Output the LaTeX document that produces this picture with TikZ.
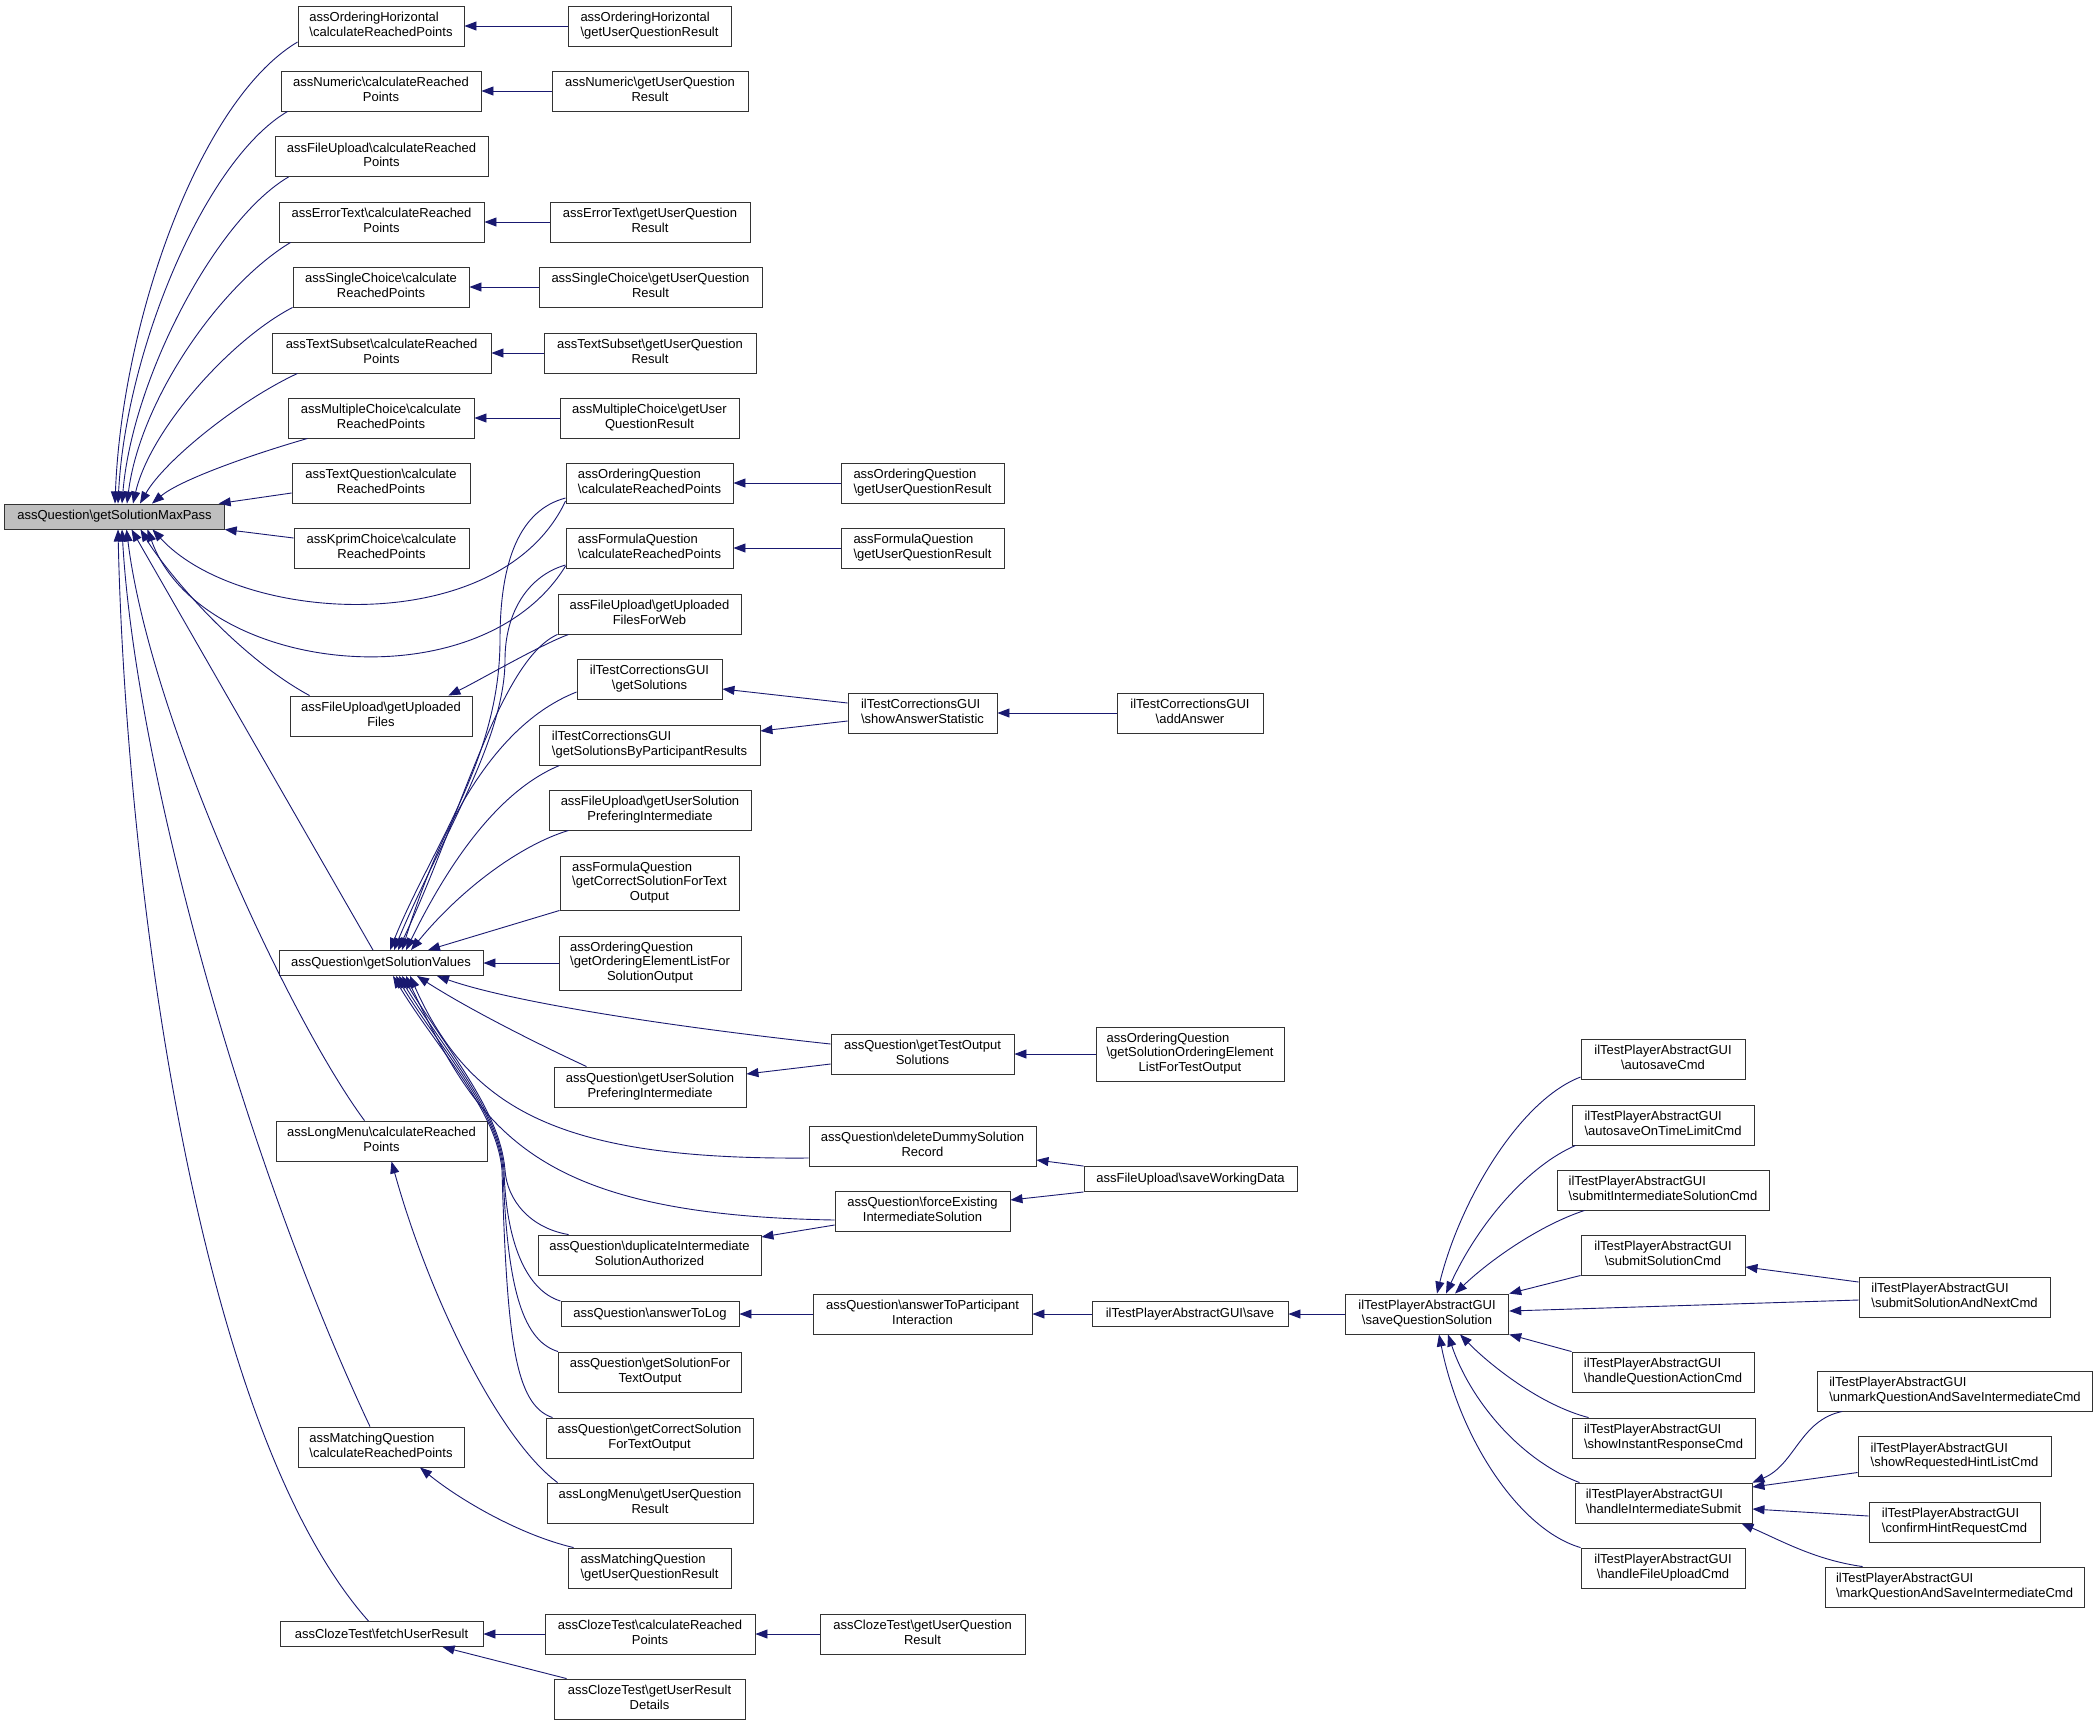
\documentclass[tikz,border=0pt]{standalone}
\usepackage{fontspec}
\setmainfont{Liberation Sans}
\usetikzlibrary{arrows.meta,calc}
\definecolor{edgec}{HTML}{191970}
\definecolor{mainf}{HTML}{BFBFBF}
\newcommand\fs{\fontsize{13}{14.7}\selectfont}
\newcommand\bsx{\textbackslash}
\newcommand\twoline[2]{\begin{tabular}{@{}l@{}}#1\\\multicolumn{1}{@{}c@{}}{#2}\end{tabular}}
\newcommand\threeline[3]{\begin{tabular}{@{}l@{}}#1\\#2\\\multicolumn{1}{@{}c@{}}{#3}\end{tabular}}
\begin{document}
\begin{tikzpicture}[x=1pt,y=-1pt,
  box/.style={draw=black!80, line width=0.9pt, fill=white, inner sep=0pt, minimum height=40pt, font=\fs},
  one/.style={minimum height=25pt},
  e/.style={draw=edgec, line width=0.9pt, {Triangle[length=12pt,width=9pt]}-},
  ]
\useasboundingbox[fill=white] (0,0) rectangle (2097,1725);
% main
\node[box,fill=mainf,minimum width=219.5pt,one] (main) at (114.5,516.5) {assQuestion\bsx getSolutionMaxPass};
% column A
\node[box,minimum width=166pt] (ordHc) at (381,26) {\twoline{assOrderingHorizontal}{\bsx calculateReachedPoints}};
\node[box,minimum width=200pt] (numc) at (381,91) {\twoline{assNumeric\bsx calculateReached}{Points}};
\node[box,minimum width=213pt] (fuc) at (381.5,156.5) {\twoline{assFileUpload\bsx calculateReached}{Points}};
\node[box,minimum width=205pt] (etcalc) at (381.5,222) {\twoline{assErrorText\bsx calculateReached}{Points}};
\node[box,minimum width=176pt] (scc) at (381,287) {\twoline{assSingleChoice\bsx calculate}{ReachedPoints}};
\node[box,minimum width=219pt] (tsc) at (381.5,353) {\twoline{assTextSubset\bsx calculateReached}{Points}};
\node[box,minimum width=186pt] (mcc) at (381,418) {\twoline{assMultipleChoice\bsx calculate}{ReachedPoints}};
\node[box,minimum width=178pt] (tqc) at (381,483) {\twoline{assTextQuestion\bsx calculate}{ReachedPoints}};
\node[box,minimum width=175pt] (kpc) at (381.5,548) {\twoline{assKprimChoice\bsx calculate}{ReachedPoints}};
\node[box,minimum width=182pt] (fuf) at (381,716) {\twoline{assFileUpload\bsx getUploaded}{Files}};
\node[box,minimum width=204pt,one] (sv) at (381,963) {assQuestion\bsx getSolutionValues};
\node[box,minimum width=211pt] (lmc) at (381.5,1141) {\twoline{assLongMenu\bsx calculateReached}{Points}};
\node[box,minimum width=166pt] (mqc) at (381,1447) {\twoline{assMatchingQuestion}{\bsx calculateReachedPoints}};
\node[box,minimum width=203pt,one] (ctf) at (381.5,1634) {assClozeTest\bsx fetchUserResult};
% column B
\node[box,minimum width=163pt] (ordHg) at (649.5,26) {\twoline{assOrderingHorizontal}{\bsx getUserQuestionResult}};
\node[box,minimum width=196pt] (numg) at (650,91) {\twoline{assNumeric\bsx getUserQuestion}{Result}};
\node[box,minimum width=200pt] (etg) at (650,222) {\twoline{assErrorText\bsx getUserQuestion}{Result}};
\node[box,minimum width=223pt] (scg) at (650.5,287) {\twoline{assSingleChoice\bsx getUserQuestion}{Result}};
\node[box,minimum width=212pt] (tsg) at (650,353) {\twoline{assTextSubset\bsx getUserQuestion}{Result}};
\node[box,minimum width=179pt] (mcg) at (649.5,418) {\twoline{assMultipleChoice\bsx getUser}{QuestionResult}};
\node[box,minimum width=167pt] (oqc) at (649.5,483) {\twoline{assOrderingQuestion}{\bsx calculateReachedPoints}};
\node[box,minimum width=167pt] (fqc) at (649.5,548) {\twoline{assFormulaQuestion}{\bsx calculateReachedPoints}};
\node[box,minimum width=183pt] (fuw) at (649.5,614) {\twoline{assFileUpload\bsx getUploaded}{FilesForWeb}};
\node[box,minimum width=145pt] (tcs) at (649.5,679) {\twoline{ilTestCorrectionsGUI}{\bsx getSolutions}};
\node[box,minimum width=221pt] (tcp) at (649.5,745) {\twoline{ilTestCorrectionsGUI}{\bsx getSolutionsByParticipantResults}};
\node[box,minimum width=202pt] (fuu) at (650,810) {\twoline{assFileUpload\bsx getUserSolution}{PreferingIntermediate}};
\node[box,minimum width=179pt,minimum height=54pt] (fqt) at (649.5,883) {\threeline{assFormulaQuestion}{\bsx getCorrectSolutionForText}{Output}};
\node[box,minimum width=182pt,minimum height=54pt] (oqe) at (650,963) {\threeline{assOrderingQuestion}{\bsx getOrderingElementListFor}{SolutionOutput}};
\node[box,minimum width=192pt] (qusp) at (650,1087) {\twoline{assQuestion\bsx getUserSolution}{PreferingIntermediate}};
\node[box,minimum width=223pt] (qdis) at (649.5,1255) {\twoline{assQuestion\bsx duplicateIntermediate}{SolutionAuthorized}};
\node[box,minimum width=178pt,one] (qatl) at (650,1314) {assQuestion\bsx answerToLog};
\node[box,minimum width=183pt] (qgsft) at (650,1372) {\twoline{assQuestion\bsx getSolutionFor}{TextOutput}};
\node[box,minimum width=207pt] (qgcs) at (649.5,1438) {\twoline{assQuestion\bsx getCorrectSolution}{ForTextOutput}};
\node[box,minimum width=206pt] (lmg) at (650,1503) {\twoline{assLongMenu\bsx getUserQuestion}{Result}};
\node[box,minimum width=163pt] (mqg) at (649.5,1568) {\twoline{assMatchingQuestion}{\bsx getUserQuestionResult}};
\node[box,minimum width=210pt] (ctc) at (650,1634) {\twoline{assClozeTest\bsx calculateReached}{Points}};
\node[box,minimum width=191pt] (ctd) at (649.5,1699) {\twoline{assClozeTest\bsx getUserResult}{Details}};
% column C
\node[box,minimum width=163pt] (oqg) at (922.5,483) {\twoline{assOrderingQuestion}{\bsx getUserQuestionResult}};
\node[box,minimum width=163pt] (fqg) at (922.5,548) {\twoline{assFormulaQuestion}{\bsx getUserQuestionResult}};
\node[box,minimum width=149pt] (tcw) at (922.5,713) {\twoline{ilTestCorrectionsGUI}{\bsx showAnswerStatistic}};
\node[box,minimum width=183pt] (qtos) at (922.5,1054) {\twoline{assQuestion\bsx getTestOutput}{Solutions}};
\node[box,minimum width=227pt] (qdd) at (922.5,1146) {\twoline{assQuestion\bsx deleteDummySolution}{Record}};
\node[box,minimum width=175pt] (qfei) at (922.5,1211) {\twoline{assQuestion\bsx forceExisting}{IntermediateSolution}};
\node[box,minimum width=219pt] (qatp) at (922.5,1314) {\twoline{assQuestion\bsx answerToParticipant}{Interaction}};
\node[box,minimum width=205pt] (ctg) at (922.5,1634) {\twoline{assClozeTest\bsx getUserQuestion}{Result}};
% column D
\node[box,minimum width=146pt] (tca) at (1190,713) {\twoline{ilTestCorrectionsGUI}{\bsx addAnswer}};
\node[box,minimum width=188pt,minimum height=54pt] (oqs) at (1190,1054) {\threeline{assOrderingQuestion}{\bsx getSolutionOrderingElement}{ListForTestOutput}};
\node[box,minimum width=213pt,one] (fsw) at (1190.5,1179) {assFileUpload\bsx saveWorkingData};
\node[box,minimum width=196pt,one] (tps) at (1190,1314) {ilTestPlayerAbstractGUI\bsx save};
% column E
\node[box,minimum width=163.5pt] (sqs) at (1427,1314) {\twoline{ilTestPlayerAbstractGUI}{\bsx saveQuestionSolution}};
% column F
\node[box,minimum width=164pt] (asv) at (1663,1059) {\twoline{ilTestPlayerAbstractGUI}{\bsx autosaveCmd}};
\node[box,minimum width=182pt] (aot) at (1663,1125) {\twoline{ilTestPlayerAbstractGUI}{\bsx autosaveOnTimeLimitCmd}};
\node[box,minimum width=212pt] (sis) at (1663,1190) {\twoline{ilTestPlayerAbstractGUI}{\bsx submitIntermediateSolutionCmd}};
\node[box,minimum width=164pt] (ssc) at (1663,1255) {\twoline{ilTestPlayerAbstractGUI}{\bsx submitSolutionCmd}};
\node[box,minimum width=182pt] (hqa) at (1663,1372) {\twoline{ilTestPlayerAbstractGUI}{\bsx handleQuestionActionCmd}};
\node[box,minimum width=183pt] (sir) at (1663.5,1438) {\twoline{ilTestPlayerAbstractGUI}{\bsx showInstantResponseCmd}};
\node[box,minimum width=177pt] (his) at (1663.5,1503) {\twoline{ilTestPlayerAbstractGUI}{\bsx handleIntermediateSubmit}};
\node[box,minimum width=164pt] (hfu) at (1663,1568) {\twoline{ilTestPlayerAbstractGUI}{\bsx handleFileUploadCmd}};
% column G
\node[box,minimum width=191pt] (ssn) at (1954.5,1297) {\twoline{ilTestPlayerAbstractGUI}{\bsx submitSolutionAndNextCmd}};
\node[box,minimum width=274.5pt] (umq) at (1955,1391) {\twoline{ilTestPlayerAbstractGUI}{\bsx unmarkQuestionAndSaveIntermediateCmd}};
\node[box,minimum width=193pt] (srh) at (1954.5,1456.5) {\twoline{ilTestPlayerAbstractGUI}{\bsx showRequestedHintListCmd}};
\node[box,minimum width=171pt] (chr) at (1954.5,1522) {\twoline{ilTestPlayerAbstractGUI}{\bsx confirmHintRequestCmd}};
\node[box,minimum width=259pt] (mqs) at (1954.5,1587) {\twoline{ilTestPlayerAbstractGUI}{\bsx markQuestionAndSaveIntermediateCmd}};

% ---- edges into main (top)
\draw[e] ($(main.north)+(0.5,0)$) .. controls (122,320) and (200,100) .. ($(ordHc.west)+(0,16)$);
\draw[e] ($(main.north)+(3.5,0)$) .. controls (126,350) and (205,160) .. ($(numc.south west)+(7,0)$);
\draw[e] ($(main.north)+(7.5,0)$) .. controls (132,380) and (215,220) .. ($(fuc.south west)+(14,0)$);
\draw[e] ($(main.north)+(12.5,0)$) .. controls (140,400) and (220,285) .. ($(etcalc.south west)+(12,0)$);
\draw[e] ($(main.north)+(18.5,0)$) .. controls (150,430) and (230,340) .. (scc.south west);
\draw[e] ($(main.north)+(25.5,0)$) .. controls (165,460) and (240,400) .. ($(tsc.south west)+(26,0)$);
\draw[e] ($(main.north)+(37.5,0)$) .. controls (180,480) and (250,455) .. ($(mcc.south west)+(20,0)$);
\draw[e] ($(main.north east)+(-6,0)$) -- ($(tqc.west)+(0,10)$);
\draw[e] (main.south east) -- ($(kpc.west)+(0,-10)$);
% ---- edges into main (bottom)
\draw[e] ($(main.south)+(38,0)$) .. controls (240,625) and (500,640) .. ($(oqc.west)+(0,18)$);
\draw[e] ($(main.south)+(33,0)$) .. controls (200,675) and (480,705) .. ($(fqc.west)+(0,18)$);
\draw[e] ($(main.south)+(26,0)$) .. controls (165,570) and (235,655) .. ($(fuf.north west)+(20,0)$);
\draw[e] ($(main.south)+(17,0)$) -- ($(sv.north)+(-8,0)$);
\draw[e] ($(main.south)+(12,0)$) .. controls (150,720) and (290,1020) .. ($(lmc.north)+(-17,0)$);
\draw[e] ($(main.south)+(7.5,0)$) .. controls (135,760) and (240,1150) .. ($(mqc.north)+(-11,0)$);
\draw[e] ($(main.south)+(3.5,0)$) .. controls (125,850) and (190,1420) .. ($(ctf.north)+(-13,0)$);
% ---- column A <- column B horizontals
\draw[e] (ordHc.east) -- (ordHg.west);
\draw[e] (numc.east) -- (numg.west);
\draw[e] (etcalc.east) -- (etg.west);
\draw[e] (scc.east) -- (scg.west);
\draw[e] (tsc.east) -- (tsg.west);
\draw[e] (mcc.east) -- (mcg.west);
\draw[e] (oqc.east) -- (oqg.west);
\draw[e] (fqc.east) -- (fqg.west);
% ---- into fuf
\draw[e] ($(fuf.north east)+(-24,0)$) .. controls (480,680) and (540,645) .. ($(fuw.south west)+(11,0)$);
% ---- into sv (top)
\draw[e] ($(sv.north)+(9,0)$) .. controls (430,850) and (500,760) .. (500,640) .. controls (500,560) and (520,510) .. ($(oqc.west)+(0,15)$);
\draw[e] ($(sv.north)+(13,0)$) .. controls (440,840) and (505,740) .. (505,660) .. controls (505,610) and (530,575) .. ($(fqc.west)+(0,17)$);
\draw[e] ($(sv.north)+(17,0)$) .. controls (460,820) and (500,660) .. (fuw.south west);
\draw[e] ($(sv.north)+(21,0)$) .. controls (430,860) and (480,730) .. ($(tcs.west)+(0,13)$);
\draw[e] ($(sv.north)+(25,0)$) .. controls (450,860) and (500,790) .. ($(tcp.south west)+(21,0)$);
\draw[e] ($(sv.north)+(30,0)$) .. controls (460,890) and (520,845) .. ($(fuu.south west)+(20,0)$);
\draw[e] ($(sv.north)+(47,0)$) -- (fqt.south west);
\draw[e] (sv.east) -- (oqe.west);
% ---- into sv (bottom)
\draw[e] ($(sv.south)+(56,0)$) .. controls (520,1005) and (700,1030) .. ($(qtos.west)+(0,-10)$);
\draw[e] ($(sv.south)+(36,0)$) .. controls (470,1010) and (540,1045) .. ($(qusp.north west)+(33,0)$);
\draw[e] ($(sv.south)+(29,0)$) .. controls (470,1110) and (560,1160) .. ($(qdd.west)+(0,12)$);
\draw[e] ($(sv.south)+(25,0)$) .. controls (480,1130) and (530,1215) .. ($(qfei.west)+(0,9)$);
\draw[e] ($(sv.south)+(21,0)$) .. controls (447,1050) and (500,1110) .. (505,1170) .. controls (507,1200) and (530,1228) .. ($(qdis.north west)+(31,0)$);
\draw[e] ($(sv.south)+(18,0)$) .. controls (444,1050) and (499,1110) .. (504,1170) .. controls (506,1240) and (525,1290) .. (qatl.north west);
\draw[e] ($(sv.south)+(15,0)$) .. controls (441,1050) and (498,1110) .. (503,1170) .. controls (507,1280) and (520,1340) .. (qgsft.north west);
\draw[e] ($(sv.south)+(12,0)$) .. controls (438,1050) and (497,1110) .. (502,1170) .. controls (507,1340) and (515,1405) .. ($(qgcs.north west)+(7,0)$);
% ---- lower column A
\draw[e] ($(lmc.south)+(10,0)$) .. controls (430,1300) and (500,1440) .. ($(lmg.north west)+(11,0)$);
\draw[e] ($(mqc.south)+(39,0)$) .. controls (460,1500) and (520,1535) .. ($(mqg.north west)+(6,0)$);
\draw[e] (ctf.east) -- (ctc.west);
\draw[e] ($(ctf.south)+(61,0)$) -- ($(ctd.north west)+(13,0)$);
\draw[e] (ctc.east) -- (ctg.west);
% ---- column B <- C
\draw[e] ($(tcs.east)+(0,10)$) -- ($(tcw.west)+(0,-10)$);
\draw[e] ($(tcp.east)+(0,-14)$) -- ($(tcw.west)+(0,8)$);
\draw[e] (tcw.east) -- (tca.west);
\draw[e] (qtos.east) -- (oqs.west);
\draw[e] ($(qusp.east)+(0,-13)$) -- ($(qtos.west)+(0,10)$);
\draw[e] ($(qdd.east)+(0,14)$) -- (fsw.north west);
\draw[e] ($(qfei.east)+(0,-11)$) -- (fsw.south west);
\draw[e] ($(qdis.east)+(0,-18)$) -- ($(qfei.west)+(0,14)$);
\draw[e] (qatl.east) -- (qatp.west);
\draw[e] (qatp.east) -- (tps.west);
\draw[e] (tps.east) -- (sqs.west);
% ---- into sqs
\draw[e] ($(sqs.north)+(10,0)$) .. controls (1460,1200) and (1520,1100) .. ($(asv.west)+(0,18)$);
\draw[e] ($(sqs.north)+(19,0)$) .. controls (1480,1220) and (1530,1165) .. ($(aot.south west)+(4,0)$);
\draw[e] ($(sqs.north)+(28,0)$) .. controls (1490,1260) and (1540,1225) .. ($(sis.south west)+(28,0)$);
\draw[e] (sqs.north east) -- (ssc.south west);
\draw[e] ($(sqs.east)+(0,-3)$) -- ($(ssn.west)+(0,3)$);
\draw[e] (sqs.south east) -- (hqa.north west);
\draw[e] ($(sqs.south)+(33,0)$) .. controls (1490,1365) and (1540,1405) .. ($(sir.north west)+(17,0)$);
\draw[e] ($(sqs.south)+(21,0)$) .. controls (1470,1400) and (1520,1460) .. ($(his.north west)+(5,0)$);
\draw[e] ($(sqs.south)+(12,0)$) .. controls (1460,1440) and (1520,1530) .. (hfu.north west);
\draw[e] ($(ssc.east)+(0,12)$) -- ($(ssn.west)+(0,-15)$);
% ---- into his
\draw[e] (his.north east) .. controls (1795,1465) and (1800,1420) .. ($(umq.south west)+(25,0)$);
\draw[e] ($(his.east)+(0,-16)$) -- ($(srh.west)+(0,16)$);
\draw[e] ($(his.east)+(0,6)$) -- ($(chr.west)+(0,-6)$);
\draw[e] ($(his.south east)+(-11,0)$) .. controls (1780,1540) and (1815,1560) .. ($(mqs.north west)+(38,0)$);
\end{tikzpicture}
\end{document}
